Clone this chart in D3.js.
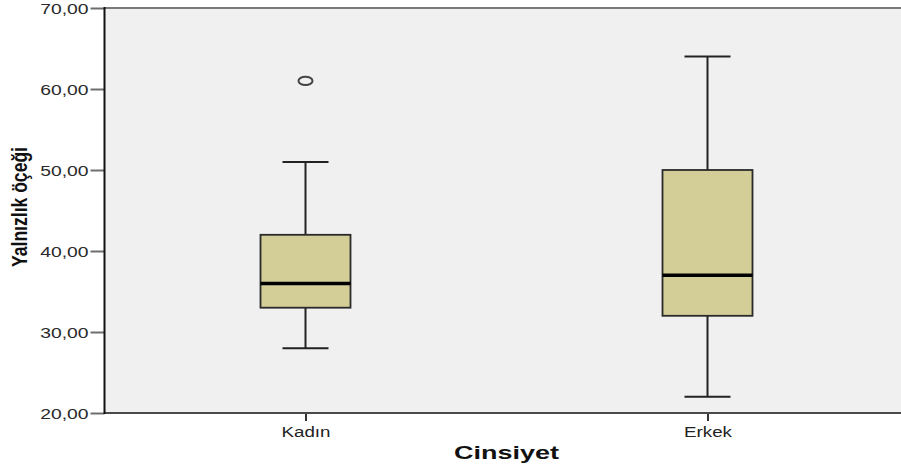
<!DOCTYPE html>
<html>
<head>
<meta charset="utf-8">
<script src="https://cdn.jsdelivr.net/npm/d3@7"></script>
<style>
  html, body { margin: 0; padding: 0; background: #ffffff; }
  svg { display: block; }
</style>
</head>
<body>
<svg id="chart" width="901" height="470"></svg>
<script>
// Box plot of the loneliness scale by gender
const categories = ["Kadın", "Erkek"];
const whiskerLow = [28, 22];
const q1 = [33, 32];
const median = [36, 37];
const q3 = [42, 50];
const whiskerHigh = [51, 64];
const outliers = [[61], []];
const yTicks = [20, 30, 40, 50, 60, 70];
const xTitle = "Cinsiyet";
const yTitle = "Yalnızlık öçeği";

const svg = d3.select("#chart");
const plot = { left: 104.5, right: 908.5, top: 8, bottom: 413 };

const x = d3.scalePoint().domain(categories).range([plot.left, plot.right]).padding(0.5);
const y = d3.scaleLinear().domain([20, 70]).range([plot.bottom, plot.top]);

const boxW = 90, capW = 46;
const fmt = v => d3.format(".2f")(v).replace(".", ",");

// stretch text horizontally by a factor relative to its natural width
function stretch(sel, factor) {
  sel.each(function () {
    const len = this.getComputedTextLength();
    d3.select(this).attr("textLength", len * factor).attr("lengthAdjust", "spacingAndGlyphs");
  });
}

// plot background
svg.append("rect")
  .attr("x", plot.left).attr("y", plot.top)
  .attr("width", plot.right - plot.left).attr("height", plot.bottom - plot.top)
  .attr("fill", "#f0f0f0");

// top frame line
svg.append("line")
  .attr("x1", plot.left).attr("x2", plot.right)
  .attr("y1", plot.top).attr("y2", plot.top)
  .attr("stroke", "#7a7a7a").attr("stroke-width", 2);

// y axis
const yAxis = svg.append("g")
  .attr("transform", `translate(${plot.left},0)`)
  .call(d3.axisLeft(y).tickValues(yTicks).tickFormat(fmt).tickSize(14).tickPadding(2));
yAxis.select(".domain").remove();
yAxis.selectAll(".tick line").attr("stroke", "#6e6e6e").attr("stroke-width", 2);
yAxis.selectAll(".tick text")
  .attr("fill", "#2a2a2a").attr("font-family", "'Liberation Sans', Arial, sans-serif")
  .attr("font-size", 14).attr("dy", "0.36em")
  .call(stretch, 1.38);

// x axis
const xAxis = svg.append("g")
  .attr("transform", `translate(0,${plot.bottom})`)
  .call(d3.axisBottom(x).tickSize(8).tickPadding(6));
xAxis.select(".domain").remove();
xAxis.selectAll(".tick line").attr("stroke", "#333").attr("stroke-width", 2);
xAxis.selectAll(".tick text")
  .attr("fill", "#222").attr("font-family", "'Liberation Sans', Arial, sans-serif")
  .attr("font-size", 14).attr("dy", "0.72em")
  .call(stretch, 1.34);

svg.append("line")
  .attr("x1", plot.left).attr("x2", plot.right)
  .attr("y1", plot.bottom).attr("y2", plot.bottom)
  .attr("stroke", "#4a4a4a").attr("stroke-width", 2);

svg.append("line")
  .attr("x1", plot.left).attr("x2", plot.left)
  .attr("y1", plot.top - 1).attr("y2", plot.bottom + 1)
  .attr("stroke", "#111").attr("stroke-width", 2);

// boxes
const boxes = svg.append("g");
categories.forEach((c, i) => {
  const cx = x(c);
  const g = boxes.append("g");
  // whiskers
  g.append("line").attr("x1", cx).attr("x2", cx).attr("y1", y(q3[i])).attr("y2", y(whiskerHigh[i]))
    .attr("stroke", "#222").attr("stroke-width", 2);
  g.append("line").attr("x1", cx).attr("x2", cx).attr("y1", y(q1[i])).attr("y2", y(whiskerLow[i]))
    .attr("stroke", "#222").attr("stroke-width", 2);
  [whiskerHigh[i], whiskerLow[i]].forEach(v => {
    g.append("line").attr("x1", cx - capW / 2).attr("x2", cx + capW / 2).attr("y1", y(v)).attr("y2", y(v))
      .attr("stroke", "#222").attr("stroke-width", 2);
  });
  // box
  g.append("rect")
    .attr("x", cx - boxW / 2).attr("y", y(q3[i]))
    .attr("width", boxW).attr("height", y(q1[i]) - y(q3[i]))
    .attr("fill", "#d3ce97").attr("stroke", "#2a2a2a").attr("stroke-width", 1.8);
  // median
  g.append("line").attr("x1", cx - boxW / 2).attr("x2", cx + boxW / 2)
    .attr("y1", y(median[i])).attr("y2", y(median[i]))
    .attr("stroke", "#000").attr("stroke-width", 3.5);
  // outliers
  outliers[i].forEach(v => {
    g.append("ellipse").attr("cx", cx).attr("cy", y(v)).attr("rx", 7).attr("ry", 4.2)
      .attr("fill", "none").attr("stroke", "#444").attr("stroke-width", 2);
  });
});

// axis titles
svg.append("text")
  .attr("x", (plot.left + plot.right) / 2).attr("y", 459)
  .attr("text-anchor", "middle")
  .attr("font-family", "'Liberation Sans', Arial, sans-serif").attr("font-weight", "bold")
  .attr("font-size", 18).attr("fill", "#111")
  .text(xTitle)
  .attr("textLength", 105).attr("lengthAdjust", "spacingAndGlyphs");

svg.append("text")
  .attr("transform", "translate(27,207) rotate(-90)")
  .attr("text-anchor", "middle")
  .attr("font-family", "'Liberation Sans', Arial, sans-serif").attr("font-weight", "bold")
  .attr("font-size", 22).attr("fill", "#111")
  .text(yTitle)
  .attr("textLength", 120).attr("lengthAdjust", "spacingAndGlyphs");
</script>
</body>
</html>
